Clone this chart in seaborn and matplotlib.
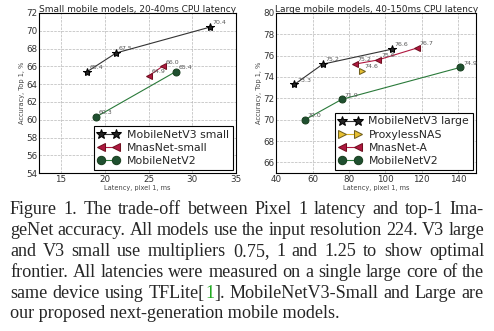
import matplotlib
matplotlib.use("Agg")
import matplotlib.pyplot as plt
import seaborn as sns
import pandas as pd

# small models (left panel)
v3_small_lat = [18.0, 21.3, 32.0]
v3_small_acc = [65.4, 67.5, 70.4]
mnas_small_lat = [25.0, 26.6]
mnas_small_acc = [64.9, 66.0]
v2_small_lat = [19.0, 28.1]
v2_small_acc = [60.3, 65.4]

# large models (right panel)
v3_large_lat = [50.0, 65.6, 103.5]
v3_large_acc = [73.3, 75.2, 76.6]
proxyless_lat = [87.0]
proxyless_acc = [74.6]
mnas_a_lat = [83.3, 96.1, 117.2]
mnas_a_acc = [75.2, 75.6, 76.7]
v2_large_lat = [55.9, 76.0, 141.3]
v2_large_acc = [70.0, 71.9, 74.9]

caption_lines = [
    "Figure 1. The trade-off between Pixel 1 latency and top-1 Ima-",
    "geNet accuracy. All models use the input resolution 224. V3 large",
    "and V3 small use multipliers 0.75, 1 and 1.25 to show optimal",
    "frontier. All latencies were measured on a single large core of the",
    "same device using TFLite[1]. MobileNetV3-Small and Large are",
    "our proposed next-generation mobile models.",
]

sns.set_style("whitegrid", {"grid.linestyle": "--", "grid.color": "#b8b8b8",
                            "axes.edgecolor": "black"})
plt.rcParams["font.family"] = ["DejaVu Sans"]

STYLE = {
    "v3": dict(color="#333333", marker="*", markersize=6, markerfacecolor="#222222",
               markeredgecolor="black"),
    "mnas": dict(color="#b01840", marker="<", markersize=5, markerfacecolor="#b01840",
                 markeredgecolor="#701020"),
    "proxy": dict(color="#d8b020", marker=">", markersize=5, markerfacecolor="#e8c030",
                  markeredgecolor="#706020"),
    "v2": dict(color="#2a7a3a", marker="o", markersize=5, markerfacecolor="#1f5030",
               markeredgecolor="#1a4020"),
}

fig = plt.figure(figsize=(4.94, 3.31), dpi=100)
ax1 = fig.add_axes([0.079, 0.477, 0.399, 0.484])
ax2 = fig.add_axes([0.559, 0.477, 0.405, 0.484])


def draw(ax, lat, acc, key, label):
    df = pd.DataFrame({"lat": lat, "acc": acc})
    st = STYLE[key]
    sns.lineplot(data=df, x="lat", y="acc", ax=ax, label=label, lw=0.8,
                 sort=False, **st)
    for x, y in zip(lat, acc):
        ax.annotate(f"{y:.1f}", (x, y), xytext=(2, 2), textcoords="offset points",
                    fontsize=4.5, color="#555555")


draw(ax1, v3_small_lat, v3_small_acc, "v3", "MobileNetV3 small")
draw(ax1, mnas_small_lat, mnas_small_acc, "mnas", "MnasNet-small")
draw(ax1, v2_small_lat, v2_small_acc, "v2", "MobileNetV2")
ax1.set_xlim(12.5, 35)
ax1.set_ylim(54, 72)
ax1.set_xticks([15, 20, 25, 30, 35])
ax1.set_yticks(range(54, 73, 2))
ax1.set_title("Small mobile models, 20-40ms CPU latency", fontsize=6.5, pad=1)

draw(ax2, v3_large_lat, v3_large_acc, "v3", "MobileNetV3 large")
draw(ax2, proxyless_lat, proxyless_acc, "proxy", "ProxylessNAS")
draw(ax2, mnas_a_lat, mnas_a_acc, "mnas", "MnasNet-A")
draw(ax2, v2_large_lat, v2_large_acc, "v2", "MobileNetV2")
ax2.set_xlim(40, 150)
ax2.set_ylim(65, 80)
ax2.set_xticks(range(40, 141, 20))
ax2.set_yticks(range(66, 81, 2))
ax2.set_title("Large mobile models, 40-150ms CPU latency", fontsize=6.5, pad=1)

for ax in (ax1, ax2):
    ax.set_xlabel("Latency, pixel 1, ms", fontsize=4.8, color="#444444", labelpad=1)
    ax.set_ylabel("Accuracy, Top 1, %", fontsize=4.8, color="#444444", labelpad=1)
    ax.tick_params(labelsize=6.3, pad=1, length=2, direction="in", color="black",
                   colors="#333333")
    for s in ax.spines.values():
        s.set_linewidth(0.8)
    ax.grid(True, lw=0.5)
    leg = ax.legend(loc="lower right", fontsize=7.8, frameon=True, fancybox=False,
                    numpoints=2, markerscale=1.2, handlelength=2.0,
                    borderaxespad=0.3, labelspacing=0.3, handletextpad=0.7,
                    borderpad=0.35)
    leg.get_frame().set_edgecolor("black")
    leg.get_frame().set_linewidth(0.8)
    leg.get_frame().set_alpha(1)

# caption, justified line by line
fs = 13.1
serif = "Liberation Serif"
left_px, right_px = 10, 484
W, H = fig.get_size_inches() * fig.dpi
renderer = fig.canvas.get_renderer()
y0, dy = 210, 20.8


def width_of(s):
    t = fig.text(0, 0, s, fontsize=fs, family=serif)
    w = t.get_window_extent(renderer).width
    t.remove()
    return w


for i, line in enumerate(caption_lines):
    yf = 1 - (y0 + i * dy) / H
    if i == len(caption_lines) - 1:
        fig.text(left_px / W, yf, line, fontsize=fs, family=serif,
                 va="center", ha="left")
        continue
    words = line.split(" ")
    widths = [width_of(w) for w in words]
    gap = (right_px - left_px - sum(widths)) / (len(words) - 1)
    x = left_px
    for w, word in zip(widths, words):
        if word == "TFLite[1].":
            pw = width_of("TFLite[")
            ow = width_of("1")
            fig.text(x / W, yf, "TFLite[", fontsize=fs, family=serif, va="center")
            fig.text((x + pw) / W, yf, "1", fontsize=fs, family=serif,
                     va="center", color="#22aa22")
            fig.text((x + pw + ow) / W, yf, "].", fontsize=fs, family=serif,
                     va="center")
        else:
            fig.text(x / W, yf, word, fontsize=fs, family=serif, va="center")
        x += w + gap

fig.savefig("out.png", dpi=100)
